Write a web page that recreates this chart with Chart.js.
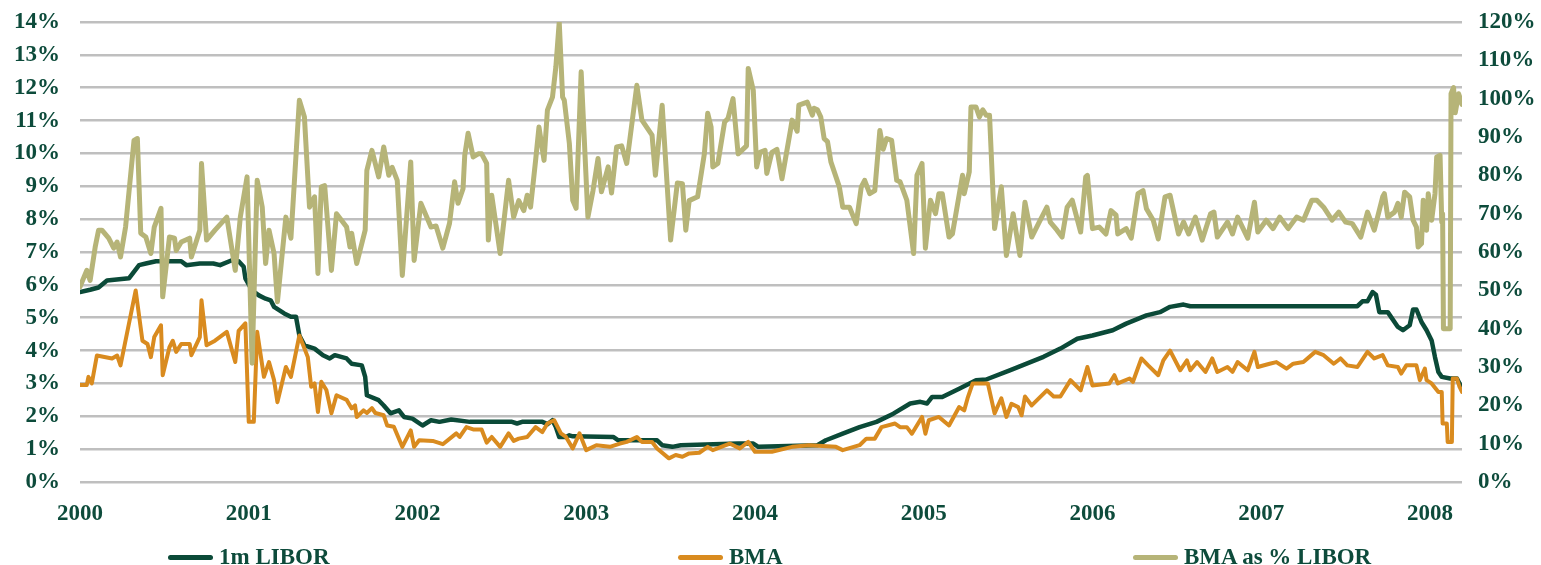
<!DOCTYPE html>
<html>
<head>
<meta charset="utf-8">
<script src="https://cdn.jsdelivr.net/npm/chart.js@4/dist/chart.umd.min.js"></script>
<style>
  body { margin: 0; background: #fff; }
  #wrap { position: relative; width: 1541px; height: 565px; }
  .leg { position: absolute; top: 544px; display: flex; align-items: center;
         font: bold 23px 'Liberation Serif', 'Times New Roman', serif; color: #0d4b3b; white-space: nowrap; }
  .leg i { display: inline-block; width: 45px; height: 5px; margin-right: 6px; border-radius: 3px; }
</style>
</head>
<body>
<div id="wrap">
  <canvas id="chart"></canvas>
  <div class="leg" style="left:168px"><i style="background:#0b4a38"></i>1m LIBOR</div>
  <div class="leg" style="left:678px"><i style="background:#d98b1f"></i>BMA</div>
  <div class="leg" style="left:1133px"><i style="background:#b6b478"></i>BMA as % LIBOR</div>
</div>
<script>
// decimal year, rate in %
const LIBOR = [
  [2000.00, 5.78], [2000.06, 5.85], [2000.11, 5.92], [2000.16, 6.13], [2000.29, 6.2], [2000.35, 6.6],
  [2000.39, 6.65], [2000.45, 6.72], [2000.60, 6.72], [2000.63, 6.6], [2000.71, 6.65], [2000.79, 6.65],
  [2000.83, 6.6], [2000.90, 6.75], [2000.94, 6.72], [2000.97, 6.55], [2000.98, 6.2], [2001.02, 5.83],
  [2001.06, 5.68], [2001.10, 5.58], [2001.13, 5.53], [2001.15, 5.33], [2001.21, 5.13], [2001.25, 5.03],
  [2001.28, 5.03], [2001.30, 4.46], [2001.33, 4.16], [2001.39, 4.06], [2001.44, 3.86], [2001.48, 3.76],
  [2001.51, 3.86], [2001.58, 3.76], [2001.61, 3.6], [2001.67, 3.55], [2001.69, 3.2], [2001.70, 2.64],
  [2001.77, 2.49], [2001.80, 2.33], [2001.84, 2.09], [2001.89, 2.18], [2001.92, 1.98], [2001.97, 1.93],
  [2002.03, 1.72], [2002.08, 1.88], [2002.13, 1.83], [2002.20, 1.9], [2002.31, 1.83], [2002.56, 1.83],
  [2002.59, 1.78], [2002.62, 1.83], [2002.74, 1.83], [2002.77, 1.76], [2002.80, 1.88], [2002.82, 1.67],
  [2002.84, 1.37], [2002.88, 1.37], [2002.90, 1.42], [2002.92, 1.39], [2003.16, 1.37], [2003.19, 1.27],
  [2003.42, 1.27], [2003.45, 1.12], [2003.51, 1.07], [2003.56, 1.12], [2003.90, 1.17], [2003.99, 1.17],
  [2004.02, 1.07], [2004.37, 1.12], [2004.42, 1.27], [2004.52, 1.47], [2004.62, 1.67], [2004.72, 1.83],
  [2004.82, 2.08], [2004.92, 2.39], [2004.98, 2.44], [2005.02, 2.39], [2005.05, 2.59], [2005.11, 2.59],
  [2005.21, 2.84], [2005.31, 3.1], [2005.37, 3.12], [2005.51, 3.4], [2005.61, 3.6], [2005.71, 3.81],
  [2005.81, 4.06], [2005.91, 4.36], [2006.00, 4.46], [2006.12, 4.62], [2006.20, 4.82], [2006.32, 5.07],
  [2006.40, 5.17], [2006.46, 5.33], [2006.54, 5.4], [2006.58, 5.35], [2007.57, 5.35], [2007.60, 5.5],
  [2007.63, 5.5], [2007.66, 5.78], [2007.68, 5.7], [2007.70, 5.17], [2007.75, 5.17], [2007.81, 4.72],
  [2007.84, 4.62], [2007.88, 4.77], [2007.90, 5.25], [2007.92, 5.25], [2007.95, 4.87], [2007.98, 4.62],
  [2008.01, 4.31], [2008.03, 3.8], [2008.05, 3.35], [2008.07, 3.2], [2008.12, 3.15], [2008.16, 3.15],
  [2008.19, 2.85]
];

const BMA = [
  [2000.00, 2.95], [2000.04, 2.95], [2000.05, 3.2], [2000.07, 3.0], [2000.10, 3.85], [2000.19, 3.76],
  [2000.22, 3.85], [2000.24, 3.55], [2000.33, 5.83], [2000.37, 4.3], [2000.40, 4.2], [2000.42, 3.8],
  [2000.44, 4.41], [2000.48, 4.77], [2000.49, 3.25], [2000.53, 4.1], [2000.55, 4.3], [2000.57, 3.96],
  [2000.60, 4.2], [2000.65, 4.2], [2000.66, 3.86], [2000.71, 4.41], [2000.72, 5.53], [2000.75, 4.16],
  [2000.80, 4.3], [2000.87, 4.57], [2000.92, 3.65], [2000.94, 4.6], [2000.98, 4.83], [2001.00, 1.83],
  [2001.03, 1.83], [2001.05, 4.57], [2001.09, 3.2], [2001.12, 3.65], [2001.15, 3.1], [2001.17, 2.43],
  [2001.22, 3.5], [2001.25, 3.2], [2001.30, 4.46], [2001.35, 3.8], [2001.37, 2.9], [2001.39, 3.0],
  [2001.41, 2.13], [2001.43, 3.05], [2001.46, 2.8], [2001.49, 2.09], [2001.52, 2.64], [2001.58, 2.5],
  [2001.61, 2.24], [2001.63, 2.33], [2001.64, 1.98], [2001.68, 2.18], [2001.70, 2.1], [2001.73, 2.25],
  [2001.75, 2.1], [2001.80, 2.03], [2001.82, 1.72], [2001.86, 1.68], [2001.91, 1.07], [2001.96, 1.57],
  [2001.98, 1.07], [2002.01, 1.27], [2002.09, 1.25], [2002.15, 1.15], [2002.23, 1.48], [2002.25, 1.37],
  [2002.29, 1.67], [2002.33, 1.6], [2002.38, 1.6], [2002.41, 1.2], [2002.44, 1.37], [2002.49, 1.07],
  [2002.54, 1.48], [2002.57, 1.25], [2002.60, 1.32], [2002.65, 1.37], [2002.70, 1.67], [2002.74, 1.52],
  [2002.77, 1.78], [2002.81, 1.88], [2002.85, 1.48], [2002.88, 1.37], [2002.92, 1.02], [2002.96, 1.48],
  [2003.00, 0.97], [2003.06, 1.12], [2003.14, 1.07], [2003.20, 1.17], [2003.24, 1.22], [2003.30, 1.37],
  [2003.33, 1.22], [2003.39, 1.22], [2003.42, 1.02], [2003.49, 0.72], [2003.53, 0.82], [2003.57, 0.77],
  [2003.61, 0.87], [2003.67, 0.89], [2003.72, 1.07], [2003.75, 0.97], [2003.85, 1.17], [2003.91, 1.02],
  [2003.96, 1.22], [2004.00, 0.92], [2004.10, 0.92], [2004.22, 1.07], [2004.32, 1.12], [2004.48, 1.07],
  [2004.52, 0.97], [2004.62, 1.12], [2004.66, 1.32], [2004.71, 1.32], [2004.75, 1.67], [2004.83, 1.78],
  [2004.86, 1.67], [2004.90, 1.67], [2004.93, 1.47], [2004.99, 1.98], [2005.01, 1.47], [2005.03, 1.88],
  [2005.09, 1.98], [2005.15, 1.72], [2005.21, 2.28], [2005.24, 2.18], [2005.26, 2.55], [2005.29, 3.0],
  [2005.38, 3.0], [2005.42, 2.09], [2005.46, 2.55], [2005.49, 1.98], [2005.52, 2.38], [2005.56, 2.28],
  [2005.58, 2.03], [2005.60, 2.6], [2005.64, 2.33], [2005.73, 2.79], [2005.77, 2.6], [2005.81, 2.6],
  [2005.87, 3.1], [2005.93, 2.79], [2005.97, 3.5], [2006.00, 2.94], [2006.10, 3.0], [2006.13, 3.25],
  [2006.15, 3.0], [2006.22, 3.15], [2006.24, 3.05], [2006.29, 3.76], [2006.33, 3.55], [2006.39, 3.25],
  [2006.42, 3.7], [2006.46, 4.0], [2006.52, 3.4], [2006.56, 3.7], [2006.58, 3.4], [2006.62, 3.65],
  [2006.67, 3.35], [2006.71, 3.76], [2006.74, 3.35], [2006.80, 3.5], [2006.83, 3.35], [2006.86, 3.65],
  [2006.92, 3.4], [2006.96, 3.96], [2006.98, 3.5], [2007.05, 3.6], [2007.09, 3.65], [2007.15, 3.45],
  [2007.19, 3.6], [2007.25, 3.65], [2007.32, 3.96], [2007.37, 3.86], [2007.43, 3.6], [2007.47, 3.76],
  [2007.51, 3.55], [2007.57, 3.5], [2007.63, 3.96], [2007.67, 3.76], [2007.72, 3.86], [2007.75, 3.55],
  [2007.81, 3.5], [2007.83, 3.3], [2007.86, 3.55], [2007.92, 3.55], [2007.94, 3.1], [2007.97, 3.45],
  [2007.98, 3.1], [2008.01, 3.0], [2008.05, 2.74], [2008.07, 2.74], [2008.075, 1.78], [2008.10, 1.78],
  [2008.105, 1.22], [2008.13, 1.22], [2008.135, 3.15], [2008.16, 3.15], [2008.175, 2.9], [2008.19, 2.74]
];

// BMA as % of LIBOR (right axis)
const RATIO = [
  [2000.00, 50.9], [2000.04, 55.2], [2000.06, 52.6], [2000.09, 61.3], [2000.11, 65.7], [2000.13, 65.7],
  [2000.17, 63.6], [2000.20, 61], [2000.22, 62.6], [2000.24, 58.7], [2000.27, 66.5], [2000.32, 89.1],
  [2000.34, 89.6], [2000.36, 64.9], [2000.39, 63.9], [2000.42, 59.6], [2000.44, 66.5], [2000.48, 71.4],
  [2000.49, 48.3], [2000.53, 63.9], [2000.56, 63.6], [2000.57, 60.4], [2000.60, 62.6], [2000.65, 63.6],
  [2000.66, 58.7], [2000.71, 65.7], [2000.72, 83.1], [2000.75, 63.1], [2000.80, 65.7], [2000.87, 69.1],
  [2000.92, 55.2], [2000.95, 69.1], [2000.99, 79.6], [2001.02, 31], [2001.05, 78.7], [2001.08, 71.7],
  [2001.10, 57], [2001.12, 65.7], [2001.15, 59.6], [2001.17, 47], [2001.22, 69.1], [2001.25, 63.6],
  [2001.30, 99.6], [2001.33, 95.2], [2001.36, 71.7], [2001.39, 74.4], [2001.41, 54.4], [2001.43, 77],
  [2001.45, 77.3], [2001.49, 55.2], [2001.52, 70], [2001.58, 66.5], [2001.60, 61.3], [2001.61, 64.9],
  [2001.64, 57], [2001.69, 65.7], [2001.70, 81.3], [2001.73, 86.5], [2001.77, 79.6], [2001.80, 87.4],
  [2001.83, 80], [2001.85, 82.1], [2001.88, 78.7], [2001.91, 53.9], [2001.96, 83.5], [2001.98, 57.8],
  [2002.02, 72.7], [2002.08, 66.5], [2002.11, 66.8], [2002.15, 61], [2002.19, 67.5], [2002.22, 78.3],
  [2002.24, 72.7], [2002.27, 76.5], [2002.28, 85.2], [2002.30, 91], [2002.33, 84.8], [2002.36, 85.6],
  [2002.38, 85.6], [2002.41, 83.1], [2002.42, 63.1], [2002.44, 74.8], [2002.49, 59.6], [2002.54, 78.7],
  [2002.57, 69.1], [2002.60, 73.4], [2002.63, 70.8], [2002.65, 74.8], [2002.67, 71.7], [2002.70, 83.9],
  [2002.72, 92.6], [2002.75, 83.9], [2002.77, 97], [2002.80, 100.4], [2002.82, 108.3], [2002.84, 120],
  [2002.86, 100.4], [2002.87, 99.6], [2002.90, 88.3], [2002.92, 73.5], [2002.94, 71.4], [2002.97, 107],
  [2003.01, 69.1], [2003.04, 76], [2003.07, 84.4], [2003.09, 75.7], [2003.13, 82.2], [2003.15, 75.4],
  [2003.18, 87.4], [2003.21, 87.7], [2003.24, 83.1], [2003.30, 103.5], [2003.33, 94.4], [2003.39, 90.5],
  [2003.41, 80], [2003.45, 98.3], [2003.50, 63.1], [2003.54, 78], [2003.57, 77.8], [2003.59, 65.7],
  [2003.61, 73.4], [2003.66, 74.4], [2003.70, 85.6], [2003.72, 96.2], [2003.74, 92.6], [2003.75, 82.2],
  [2003.78, 83.1], [2003.82, 93.9], [2003.84, 94.8], [2003.87, 100], [2003.90, 85.6], [2003.95, 87.7],
  [2003.96, 107.9], [2003.99, 102.2], [2004.01, 82.2], [2004.03, 86], [2004.06, 86.5], [2004.07, 80.5],
  [2004.10, 86], [2004.13, 86.8], [2004.16, 79.1], [2004.21, 91.7], [2004.22, 94.4], [2004.25, 91.5],
  [2004.26, 98.3], [2004.31, 99.1], [2004.34, 95.7], [2004.35, 97.5], [2004.37, 97.1], [2004.39, 95.2],
  [2004.41, 89.6], [2004.43, 88.8], [2004.45, 83.5], [2004.50, 77], [2004.52, 71.7], [2004.56, 71.7],
  [2004.60, 67.4], [2004.63, 77], [2004.65, 78.7], [2004.68, 75.2], [2004.71, 76], [2004.74, 91.7],
  [2004.76, 86.8], [2004.78, 89.6], [2004.81, 89.1], [2004.84, 78.7], [2004.86, 78.3], [2004.90, 73.5],
  [2004.94, 59.6], [2004.96, 80], [2004.99, 83.1], [2005.01, 61], [2005.04, 73.5], [2005.07, 70],
  [2005.09, 75.2], [2005.11, 75.2], [2005.15, 63.9], [2005.17, 64.7], [2005.23, 80], [2005.24, 75.2],
  [2005.27, 80.9], [2005.28, 97.8], [2005.31, 97.8], [2005.33, 95.2], [2005.35, 97.1], [2005.37, 95.7],
  [2005.39, 95.7], [2005.42, 66.1], [2005.46, 77], [2005.49, 59.1], [2005.53, 70], [2005.57, 59.1],
  [2005.60, 73], [2005.64, 63.9], [2005.68, 67.4], [2005.73, 71.7], [2005.75, 67.8], [2005.79, 65.7],
  [2005.82, 63.9], [2005.85, 71.7], [2005.88, 73.5], [2005.93, 65.2], [2005.96, 79.6], [2005.97, 80],
  [2006.00, 66.1], [2006.04, 66.5], [2006.08, 64.7], [2006.11, 70.8], [2006.14, 69.6], [2006.15, 64.7],
  [2006.20, 66.1], [2006.23, 63.6], [2006.27, 75.2], [2006.30, 76], [2006.32, 71.3], [2006.36, 68.3],
  [2006.39, 63.4], [2006.43, 74.4], [2006.46, 74.8], [2006.51, 64.7], [2006.54, 67.8], [2006.57, 64.7],
  [2006.61, 69.1], [2006.65, 63.1], [2006.70, 70], [2006.72, 70.4], [2006.74, 63.9], [2006.80, 67.8],
  [2006.83, 64.7], [2006.86, 69.1], [2006.92, 63.6], [2006.96, 73], [2006.98, 65.2], [2007.03, 68.3],
  [2007.07, 66.1], [2007.11, 69.1], [2007.16, 66.1], [2007.21, 69.1], [2007.25, 68.3], [2007.30, 73.5],
  [2007.33, 73.5], [2007.37, 71.7], [2007.42, 68.3], [2007.46, 70.4], [2007.50, 67.8], [2007.54, 67.4],
  [2007.59, 63.9], [2007.63, 70.4], [2007.67, 65.7], [2007.72, 74.4], [2007.73, 75.2], [2007.75, 69.1],
  [2007.79, 70.4], [2007.81, 72.7], [2007.83, 69.1], [2007.85, 75.6], [2007.88, 74.4], [2007.90, 68.3],
  [2007.92, 66.5], [2007.93, 61.3], [2007.95, 62.2], [2007.96, 73.5], [2007.98, 65.7], [2007.99, 75.2],
  [2008.01, 68.3], [2008.03, 75.2], [2008.04, 84.8], [2008.06, 85.2], [2008.07, 67.8], [2008.075, 70],
  [2008.08, 40], [2008.12, 40], [2008.125, 101.3], [2008.14, 102.9], [2008.15, 96.3], [2008.17, 101.3],
  [2008.19, 98.5]
];

const YEARS = [2000, 2001, 2002, 2003, 2004, 2005, 2006, 2007, 2008];
const X_MAX = 2008.19;

const GREEN = '#0b4a38';
const ORANGE = '#d98b1f';
const OLIVE = '#b6b478';

Chart.defaults.font.family = "'Liberation Serif', 'Times New Roman', serif";
Chart.defaults.font.size = 23;
Chart.defaults.font.weight = 'bold';
Chart.defaults.color = '#0d4b3b';

const toXY = arr => arr.map(p => ({ x: p[0], y: p[1] }));

function lineSet(label, data, color, width, axis, order) {
  return {
    label,
    data: toXY(data),
    borderColor: color,
    backgroundColor: color,
    borderWidth: width,
    pointRadius: 0,
    tension: 0,
    borderJoinStyle: 'round',
    borderCapStyle: 'round',
    yAxisID: axis,
    order,
  };
}

// fixed axis sizes so the plot area lands where the original one is
function fixWidth(w) {
  return s => { s.width = w; s.paddingTop = 0; s.paddingBottom = 0; };
}

new Chart(document.getElementById('chart'), {
  type: 'line',
  data: {
    datasets: [
      lineSet('1m LIBOR', LIBOR, GREEN, 4.5, 'y', 2),
      lineSet('BMA', BMA, ORANGE, 4, 'y', 1),
      lineSet('BMA as % LIBOR', RATIO, OLIVE, 5, 'y1', 0),
    ],
  },
  options: {
    responsive: true,
    maintainAspectRatio: false,
    animation: false,
    layout: { padding: { top: 22, left: 0, right: 0, bottom: 0 } },
    plugins: { legend: { display: false }, tooltip: { enabled: false } },
    scales: {
      x: {
        type: 'linear',
        min: 2000,
        max: X_MAX,
        grid: { display: false },
        border: { display: false },
        afterBuildTicks: s => { s.ticks = YEARS.map(v => ({ value: v })); },
        afterFit: s => { s.height = 83; s.paddingLeft = 0; s.paddingRight = 0; },
        ticks: { padding: 10, maxRotation: 0, callback: v => String(v) },
      },
      y: {
        position: 'left',
        min: 0,
        max: 14,
        afterFit: fixWidth(80),
        grid: { color: '#bfbfbf', lineWidth: 2.5, drawTicks: false },
        border: { display: false },
        ticks: { stepSize: 1, padding: 20, callback: v => v + '%' },
      },
      y1: {
        position: 'right',
        min: 0,
        max: 120,
        afterFit: fixWidth(79),
        grid: { display: false, drawTicks: false },
        border: { display: false },
        ticks: { stepSize: 10, padding: 16, callback: v => v + '%' },
      },
    },
  },
});
</script>
</body>
</html>
